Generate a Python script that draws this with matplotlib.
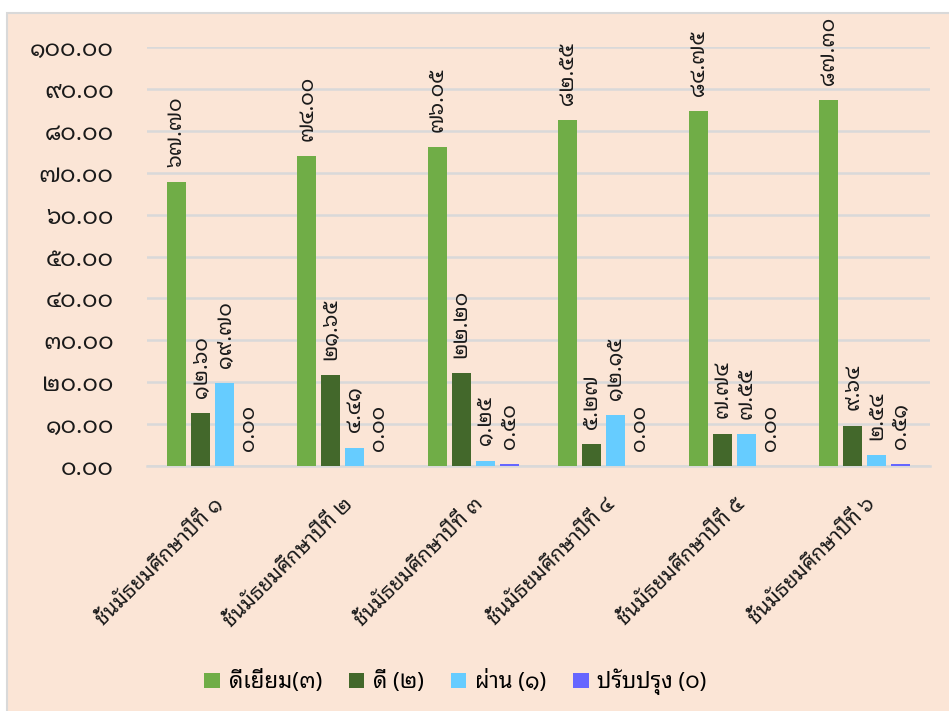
import numpy as np
import matplotlib
matplotlib.use('Agg')
import matplotlib.pyplot as plt
from matplotlib.patches import Rectangle

plt.rcParams['font.family'] = ['Noto Sans Thai Looped', 'DejaVu Sans']

categories = ['ชั้นมัธยมศึกษาปีที่ ๑', 'ชั้นมัธยมศึกษาปีที่ ๒', 'ชั้นมัธยมศึกษาปีที่ ๓',
              'ชั้นมัธยมศึกษาปีที่ ๔', 'ชั้นมัธยมศึกษาปีที่ ๕', 'ชั้นมัธยมศึกษาปีที่ ๖']
series_names = ['ดีเยี่ยม(๓)', 'ดี (๒)', 'ผ่าน (๑)', 'ปรับปรุง (๐)']
excellent = [67.70, 74.00, 76.05, 82.55, 84.75, 87.30]
good = [12.60, 21.65, 22.20, 5.27, 7.74, 9.64]
passed = [19.70, 4.41, 1.25, 12.15, 7.55, 2.54]
improve = [0.00, 0.00, 0.50, 0.00, 0.00, 0.51]
colors = ['#70AD47', '#43682B', '#66CCFF', '#6666FF']

thai_digits = str.maketrans('0123456789', '๐๑๒๓๔๕๖๗๘๙')


def thai(v):
    return ('%.2f' % v).translate(thai_digits)


fig = plt.figure(figsize=(9.49, 7.11), dpi=100, facecolor='white')
# chart area background with border
fig.patches.append(Rectangle((7 / 949, -0.05), 1.0, 1 - 13 / 711 + 0.05,
                             transform=fig.transFigure, facecolor='#FBE5D6',
                             edgecolor='#D9D9D9', linewidth=1.5, zorder=-10))

ax = fig.add_axes([147 / 949, 1 - 466 / 711, (930 - 147) / 949, (466 - 47) / 711])
ax.set_facecolor('none')

x = np.arange(len(categories))
step = 0.184
width = 0.146
all_series = [excellent, good, passed, improve]
for i, (vals, name, col) in enumerate(zip(all_series, series_names, colors)):
    pos = x + (i - 1.5) * step
    bars = ax.bar(pos, vals, width, color=col, label=name, zorder=3)
    for b, v in zip(bars, vals):
        ax.annotate(thai(v), (b.get_x() + b.get_width() / 2, v),
                    xytext=(0, 11), textcoords='offset points',
                    rotation=90, ha='center', va='bottom', fontsize=15,
                    color='#1a1a1a')

ax.set_xlim(-0.5, 5.5)
ax.set_ylim(0, 100)
ax.set_yticks(np.arange(0, 101, 10))
ax.set_yticklabels([thai(v) for v in np.arange(0, 101, 10)], fontsize=17, color='#1a1a1a')
ax.yaxis.grid(True, color='#D9D9D9', linewidth=1.8, zorder=0)
ax.set_axisbelow(True)
ax.tick_params(axis='y', length=0, pad=24)
ax.tick_params(axis='x', length=0, pad=20)
ax.set_xticks(x)
ax.set_xticklabels(categories, rotation=45, ha='right', rotation_mode='anchor',
                   fontsize=15, color='#1a1a1a')
for s in ['top', 'right', 'left']:
    ax.spines[s].set_visible(False)
ax.spines['bottom'].set_color('#D9D9D9')
ax.spines['bottom'].set_linewidth(1.8)

fig.legend(loc='lower center', bbox_to_anchor=(0.48, -0.006), ncol=4, frameon=False,
           fontsize=16, handlelength=0.7, handleheight=0.7, handletextpad=0.4,
           columnspacing=1.2)

fig.savefig('out.png', dpi=100, facecolor=fig.get_facecolor())
